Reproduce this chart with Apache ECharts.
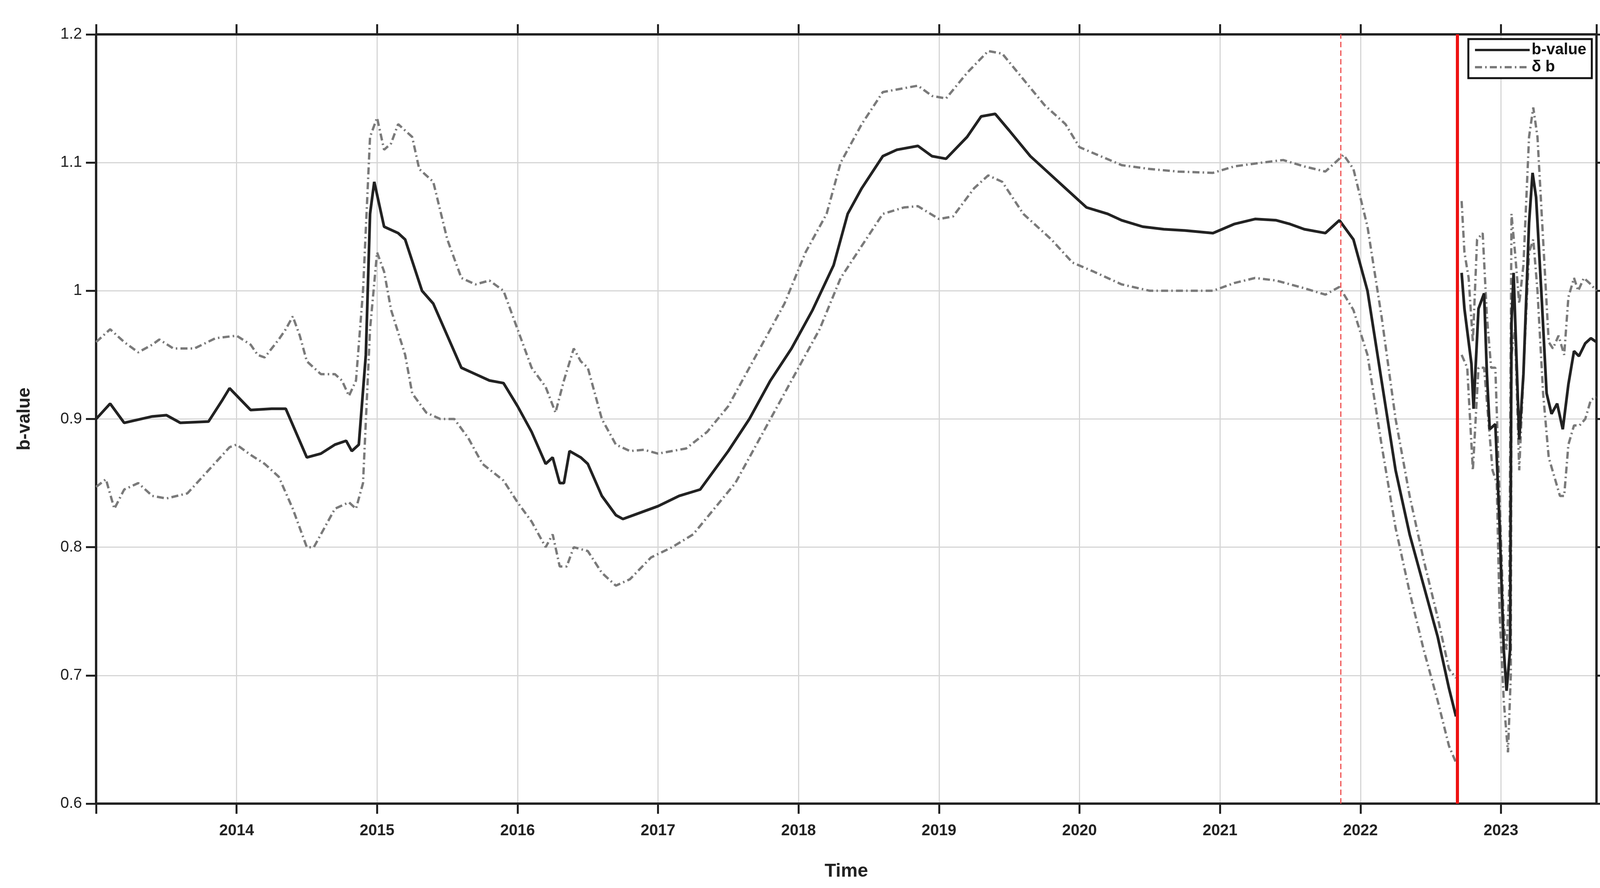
<!DOCTYPE html>
<html><head><meta charset="utf-8">
<script src="https://cdn.jsdelivr.net/npm/echarts@6/dist/echarts.min.js"></script>
<style>html,body{margin:0;background:#fff}#c{width:4167px;height:2273px}</style>
</head><body><div id="c"></div>
<script>
const xTicks = [2014,2015,2016,2017,2018,2019,2020,2021,2022,2023];
const yTicks = [0.6,0.7,0.8,0.9,1.0,1.1,1.2];
const eventLines = [2021.86, 2022.69];
const bValue = [
[2013.0,0.900],[2013.1,0.912],[2013.2,0.897],[2013.4,0.902],[2013.5,0.903],[2013.6,0.897],[2013.8,0.898],[2013.9,0.915],[2013.95,0.924],[2014.1,0.907],[2014.25,0.908],[2014.35,0.908],[2014.5,0.870],[2014.6,0.873],[2014.7,0.880],[2014.78,0.883],[2014.82,0.875],[2014.87,0.880],[2014.92,0.95],[2014.95,1.06],[2014.98,1.085],[2015.05,1.05],[2015.15,1.045],[2015.2,1.04],[2015.32,1.0],[2015.4,0.99],[2015.5,0.965],[2015.6,0.94],[2015.7,0.935],[2015.8,0.93],[2015.9,0.928],[2016.0,0.91],[2016.1,0.89],[2016.2,0.865],[2016.25,0.87],[2016.3,0.85],[2016.33,0.85],[2016.37,0.875],[2016.45,0.87],[2016.5,0.865],[2016.6,0.84],[2016.7,0.825],[2016.75,0.822],[2016.85,0.826],[2017.0,0.832],[2017.15,0.84],[2017.3,0.845],[2017.4,0.86],[2017.5,0.875],[2017.65,0.9],[2017.8,0.93],[2017.95,0.955],[2018.1,0.985],[2018.25,1.02],[2018.35,1.06],[2018.45,1.08],[2018.6,1.105],[2018.7,1.11],[2018.85,1.113],[2018.95,1.105],[2019.05,1.103],[2019.2,1.12],[2019.3,1.136],[2019.4,1.138],[2019.5,1.125],[2019.65,1.105],[2019.8,1.09],[2019.9,1.08],[2020.05,1.065],[2020.2,1.06],[2020.3,1.055],[2020.45,1.05],[2020.6,1.048],[2020.75,1.047],[2020.95,1.045],[2021.1,1.052],[2021.25,1.056],[2021.4,1.055],[2021.5,1.052],[2021.6,1.048],[2021.75,1.045],[2021.85,1.055],[2021.95,1.04],[2022.05,1.0],[2022.15,0.93],[2022.25,0.86],[2022.35,0.81],[2022.45,0.77],[2022.55,0.73],[2022.63,0.69],[2022.68,0.668],
[2022.72,1.014],[2022.74,0.986],[2022.79,0.943],[2022.805,0.908],[2022.84,0.986],[2022.88,0.998],[2022.9,0.935],[2022.92,0.892],[2022.96,0.896],[2022.99,0.818],[2023.02,0.72],[2023.04,0.688],[2023.065,0.72],[2023.075,0.975],[2023.09,1.014],[2023.13,0.884],[2023.16,0.935],[2023.2,1.053],[2023.225,1.092],[2023.25,1.073],[2023.29,0.994],[2023.325,0.92],[2023.36,0.904],[2023.4,0.912],[2023.44,0.892],[2023.48,0.927],[2023.52,0.953],[2023.555,0.949],[2023.6,0.959],[2023.64,0.963],[2023.68,0.96]
];
const upperB = [
[2013.0,0.96],[2013.1,0.97],[2013.2,0.96],[2013.3,0.952],[2013.4,0.958],[2013.45,0.962],[2013.55,0.955],[2013.7,0.955],[2013.85,0.963],[2014.0,0.965],[2014.1,0.958],[2014.15,0.95],[2014.2,0.948],[2014.3,0.962],[2014.35,0.97],[2014.4,0.98],[2014.45,0.965],[2014.5,0.945],[2014.6,0.935],[2014.7,0.935],[2014.75,0.93],[2014.8,0.918],[2014.85,0.93],[2014.9,1.0],[2014.95,1.12],[2015.0,1.135],[2015.05,1.11],[2015.1,1.115],[2015.15,1.13],[2015.25,1.12],[2015.3,1.095],[2015.4,1.085],[2015.5,1.04],[2015.6,1.01],[2015.7,1.005],[2015.8,1.008],[2015.9,1.0],[2016.0,0.97],[2016.1,0.94],[2016.2,0.925],[2016.27,0.905],[2016.33,0.93],[2016.4,0.955],[2016.45,0.945],[2016.5,0.94],[2016.6,0.9],[2016.7,0.88],[2016.8,0.875],[2016.9,0.876],[2017.0,0.873],[2017.2,0.877],[2017.35,0.89],[2017.5,0.91],[2017.7,0.95],[2017.9,0.99],[2018.05,1.03],[2018.2,1.06],[2018.3,1.1],[2018.45,1.13],[2018.6,1.155],[2018.75,1.158],[2018.85,1.16],[2018.95,1.152],[2019.05,1.15],[2019.2,1.17],[2019.35,1.187],[2019.45,1.185],[2019.6,1.165],[2019.75,1.145],[2019.9,1.13],[2020.0,1.112],[2020.15,1.105],[2020.3,1.098],[2020.5,1.095],[2020.7,1.093],[2020.95,1.092],[2021.1,1.097],[2021.3,1.1],[2021.45,1.102],[2021.6,1.097],[2021.75,1.093],[2021.88,1.106],[2021.95,1.095],[2022.05,1.05],[2022.15,0.98],[2022.25,0.9],[2022.35,0.84],[2022.45,0.79],[2022.55,0.745],[2022.63,0.705],[2022.68,0.698],
[2022.72,1.07],[2022.74,1.03],[2022.77,1.01],[2022.8,0.96],[2022.83,1.04],[2022.87,1.045],[2022.9,0.98],[2022.93,0.94],[2022.96,0.94],[2022.99,0.84],[2023.02,0.74],[2023.04,0.72],[2023.06,0.77],[2023.075,1.06],[2023.1,1.03],[2023.13,0.99],[2023.16,1.02],[2023.2,1.12],[2023.23,1.143],[2023.26,1.12],[2023.3,1.04],[2023.34,0.96],[2023.37,0.955],[2023.41,0.965],[2023.45,0.95],[2023.48,0.995],[2023.52,1.01],[2023.55,1.0],[2023.59,1.01],[2023.64,1.005],[2023.68,1.0]
];
const lowerB = [
[2013.0,0.847],[2013.07,0.853],[2013.13,0.83],[2013.2,0.845],[2013.3,0.85],[2013.4,0.84],[2013.5,0.838],[2013.65,0.842],[2013.8,0.86],[2013.95,0.878],[2014.0,0.88],[2014.1,0.872],[2014.2,0.865],[2014.3,0.855],[2014.4,0.83],[2014.5,0.8],[2014.55,0.8],[2014.6,0.81],[2014.7,0.83],[2014.8,0.835],[2014.85,0.83],[2014.9,0.85],[2014.95,0.97],[2015.0,1.03],[2015.05,1.015],[2015.1,0.985],[2015.2,0.95],[2015.25,0.92],[2015.35,0.905],[2015.45,0.9],[2015.55,0.9],[2015.65,0.885],[2015.75,0.865],[2015.9,0.852],[2016.0,0.835],[2016.1,0.82],[2016.2,0.8],[2016.25,0.81],[2016.3,0.785],[2016.35,0.785],[2016.4,0.8],[2016.5,0.797],[2016.6,0.78],[2016.7,0.77],[2016.8,0.775],[2016.95,0.792],[2017.1,0.8],[2017.25,0.81],[2017.4,0.83],[2017.55,0.85],[2017.7,0.88],[2017.85,0.91],[2018.0,0.94],[2018.15,0.97],[2018.3,1.01],[2018.45,1.035],[2018.6,1.06],[2018.75,1.065],[2018.85,1.066],[2019.0,1.056],[2019.1,1.058],[2019.25,1.08],[2019.35,1.09],[2019.45,1.085],[2019.6,1.06],[2019.8,1.04],[2019.95,1.022],[2020.1,1.015],[2020.3,1.005],[2020.5,1.0],[2020.7,1.0],[2020.95,1.0],[2021.1,1.006],[2021.25,1.01],[2021.4,1.008],[2021.6,1.002],[2021.75,0.997],[2021.85,1.003],[2021.95,0.985],[2022.05,0.95],[2022.15,0.88],[2022.25,0.815],[2022.35,0.765],[2022.45,0.72],[2022.55,0.68],[2022.63,0.645],[2022.68,0.632],
[2022.72,0.95],[2022.76,0.94],[2022.8,0.86],[2022.84,0.94],[2022.88,0.94],[2022.91,0.9],[2022.94,0.86],[2022.97,0.85],[2022.99,0.75],[2023.02,0.68],[2023.05,0.64],[2023.07,0.7],[2023.075,0.95],[2023.1,0.97],[2023.13,0.86],[2023.17,0.96],[2023.2,1.03],[2023.23,1.04],[2023.26,1.0],[2023.3,0.92],[2023.34,0.87],[2023.38,0.855],[2023.42,0.84],[2023.45,0.84],[2023.48,0.88],[2023.52,0.895],[2023.56,0.895],[2023.6,0.9],[2023.64,0.915],[2023.68,0.917]
];
const splitAt = 2022.7;
const seg = (arr) => { const out=[]; let broke=false; arr.forEach(p=>{ if(!broke && p[0]>splitAt){out.push('-'); broke=true;} out.push(p);}); return out; };
const F = 'Arial, "Liberation Sans", sans-serif';
const chart = echarts.init(document.getElementById('c'));
const axisLineS = {show:true, lineStyle:{color:'#222', width:6}};
const tickS = {show:true, inside:false, length:26, lineStyle:{color:'#222', width:5}};
const dashed = {color:'#7a7a7a', width:6, type:[18,8,4,8]};
chart.setOption({
  animation:false,
  grid:{left:246, right:80, top:88, bottom:216},
  legend:{
    right:92, top:100, orient:'vertical', itemGap:4, itemWidth:140, itemHeight:20,
    backgroundColor:'#fff', borderColor:'#111', borderWidth:5, padding:[8,14,8,14],
    textStyle:{fontFamily:F, fontWeight:'bold', fontSize:40, color:'#111'},
    itemStyle:{opacity:0},
    data:[
      {name:'b-value', lineStyle:{width:6, color:'#222', type:'solid'}},
      {name:'δ b', lineStyle:{width:6, color:'#7a7a7a', type:[18,8,4,8]}}
    ]
  },
  xAxis:[{
    type:'value', min:2013, max:2023.68, interval:1,
    name:'Time', nameLocation:'middle', nameGap:150,
    nameTextStyle:{fontFamily:F, fontWeight:'bold', fontSize:48, color:'#222'},
    axisLine:axisLineS, axisTick:tickS,
    axisLabel:{fontFamily:F, fontWeight:'bold', fontSize:40, color:'#222', margin:50, showMaxLabel:false,
      formatter:v=> xTicks.includes(Math.round(v)) && Math.abs(v-Math.round(v))<1e-6 ? String(Math.round(v)) : ''},
    splitLine:{show:true, lineStyle:{color:'#d6d6d6', width:3}}
  },{
    type:'value', position:'top', min:2013, max:2023.68, interval:1,
    axisLine:axisLineS, axisTick:tickS, axisLabel:{show:false}, splitLine:{show:false}
  }],
  yAxis:[{
    type:'value', min:0.6, max:1.2, interval:0.1,
    name:'b-value', nameLocation:'middle', nameGap:160,
    nameTextStyle:{fontFamily:F, fontWeight:'bold', fontSize:46, color:'#222'},
    axisLine:axisLineS, axisTick:tickS,
    axisLabel:{fontFamily:F, fontSize:40, color:'#222', margin:36, formatter:v=>String(+v.toFixed(1))},
    splitLine:{show:true, lineStyle:{color:'#d6d6d6', width:3}}
  },{
    type:'value', position:'right', min:0.6, max:1.2, interval:0.1,
    axisLine:axisLineS, axisTick:tickS, axisLabel:{show:false}, splitLine:{show:false}
  }],
  series:[
    {name:'b-value', type:'line', data:seg(bValue), symbol:'none', connectNulls:false,
     lineStyle:{color:'#222', width:7}, itemStyle:{color:'#222'}, z:4,
     markLine:{silent:true, symbol:'none', label:{show:false}, data:[
       {xAxis:eventLines[0], lineStyle:{color:'#f05050', width:3, type:[14,8]}},
       {xAxis:eventLines[1], lineStyle:{color:'#ee1111', width:8, type:'solid'}}
     ]}},
    {name:'δ b', type:'line', data:seg(upperB), symbol:'none', lineStyle:dashed, itemStyle:{color:'#7a7a7a'}, z:3},
    {name:'δ b', type:'line', data:seg(lowerB), symbol:'none', lineStyle:dashed, itemStyle:{color:'#7a7a7a'}, z:3}
  ]
});
</script></body></html>
